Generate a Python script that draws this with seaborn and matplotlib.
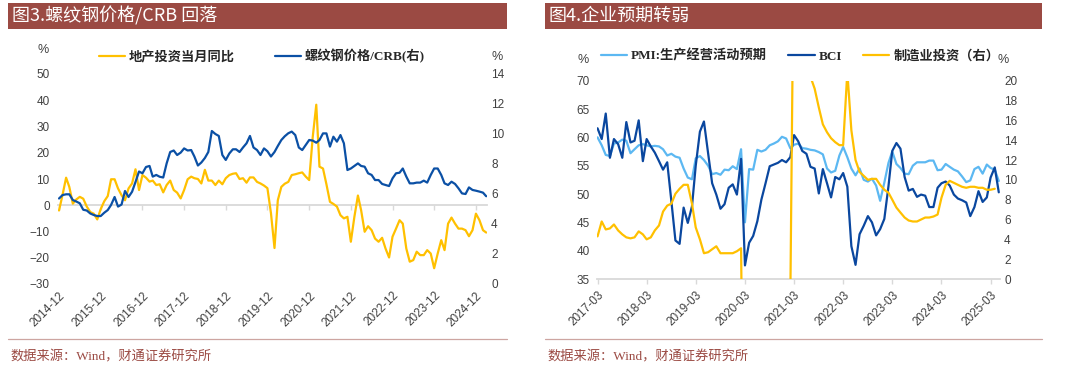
import pandas as pd
import seaborn as sns
import matplotlib.pyplot as plt
from matplotlib.lines import Line2D
from matplotlib.patches import Rectangle

sns.set_theme(style="white")
plt.rcParams['font.family'] = ['Liberation Sans', 'Noto Sans CJK SC']
plt.rcParams['axes.unicode_minus'] = True

# ---- 图3 data (monthly, from 2014-12) ----
re_invest_yoy = [
    -2, 4, 10.5, 7, 0.6, 2.2, 3.2, 2.5, -0.5, -2.6, -3.2, -5.4,
    -1.5, 1.5, 3.5, 9.9, 9.9, 6.4, 3.8, 1.9, 6.4, 8.3, 13.7, 5.8,
    11.5, 10.5, 9, 9.4, 7.7, 8, 4.9, 7.7, 9.4, 5.8, 4.8, 2.6,
    5.8, 9.9, 10.9, 10.3, 10, 8.3, 13.5, 9.4, 9.4, 7.7, 9.4, 8,
    10.3, 11.5, 12, 12.2, 10, 10.3, 8.6, 10.6, 10.6, 8.9, 8.3, 7.5,
    6.5, -3, -16.3, 1.9, 7, 8.2, 8.9, 11.5, 11.8, 12.2, 12.5, 10.9,
    9.6, 26, 38.3, 14.7, 14, 8, 1.3, 0.5, -0.5, -3.8, -5, -4.4,
    -13.9, -4.4, 3.7, -1.9, -10.1, -8, -9.5, -12.7, -13.9, -12.4, -16.5, -19.9,
    -12, -8.9, -5.7, -7, -16.5, -21.5, -20.9, -17.7, -19, -19, -17.1, -18.4,
    -24, -18.4, -13.3, -17.1, -7, -4.7, -7, -8.9, -8.9, -9.5, -11.8, -9.5,
    -3.2, -5.7, -9.5, -10.4,
]
rebar_crb = [
    5.7, 5.93, 5.98, 5.98, 5.6, 5.5, 5.38, 4.95, 4.9, 4.7, 4.6, 4.53,
    4.53, 4.75, 4.93, 5.27, 5.8, 5.16, 5.3, 6.2, 5.8, 6.15, 6.8, 7.5,
    7.38, 7.8, 7.87, 7.16, 7.27, 7.15, 7.1, 8.04, 8.8, 8.9, 8.6, 8.76,
    9.04, 8.9, 8.93, 8.5, 7.9, 8.1, 8.4, 8.8, 10.2, 10.0, 9.87, 8.6,
    8.27, 8.7, 8.98, 8.98, 8.8, 9.1, 9.38, 9.87, 9.1, 8.93, 8.6, 9.04,
    8.85, 8.5, 8.8, 9.2, 9.6, 9.85, 10.05, 10.16, 9.93, 9.1, 8.93, 9.27,
    9.6, 9.56, 9.42, 9.6, 10.04, 10.04, 9.16, 9.82, 9.49, 9.93, 9.38, 7.6,
    7.7, 7.87, 8.04, 7.87, 7.82, 7.38, 7.27, 6.93, 6.93, 6.67, 6.6, 6.53,
    7.04, 7.38, 7.42, 7.7, 7.16, 6.71, 6.71, 6.76, 6.76, 6.89, 6.76, 7.27,
    7.7, 7.7, 7.27, 6.71, 6.6, 6.82, 6.67, 6.38, 6.04, 6.0, 6.44, 6.27,
    6.22, 6.16, 6.09, 5.85,
]
left_dates = pd.date_range("2014-12-01", periods=len(re_invest_yoy), freq="MS")
left_ticks = pd.date_range("2014-12-01", "2024-12-01", freq="12MS")

# ---- 图4 data (monthly, from 2017-03) ----
pmi_expect = [
    60.0, 58.6, 56.9, 56.7, 58.9, 59.1, 59.6, 59.4, 57.2, 57.9, 58.6, 58.8,
    58.6, 58.4, 58.5, 58.4, 57.9, 56.8, 57.1, 56.6, 56.4, 54.5, 52.9, 52.6,
    56.3, 56.7, 56.0, 55.0, 53.5, 53.7, 53.4, 54.3, 54.2, 54.9, 54.4, 57.9,
    45.0, 54.4, 54.3, 57.8, 57.5, 57.8, 58.6, 58.9, 59.3, 60.1, 59.8, 58.1,
    58.7, 58.9, 58.1, 58.0, 57.8, 57.7, 57.4, 57.0, 54.5, 53.8, 54.1, 56.8,
    58.3, 56.5, 54.5, 53.3, 54.5, 52.5, 52.2, 52.7, 51.5, 48.8, 52.0, 55.5,
    57.5, 55.3, 54.6, 53.6, 53.5, 55.0, 55.6, 55.6, 55.6, 55.9, 55.9, 54.2,
    54.3, 55.3, 54.8, 54.3, 54.0, 53.1, 52.1, 52.4, 54.4, 54.8, 53.6, 55.2,
    54.6, 54.3, 52.3,
]
bci = [
    61.6, 59.7, 64.2, 56.4, 59.7, 58.8, 56.4, 62.7, 59.1, 59.4, 63.0, 55.8,
    59.7, 58.4, 57.3, 55.8, 54.3, 55.6, 48.7, 41.8, 41.2, 47.6, 44.9, 47.8,
    55.0, 61.0, 62.8, 57.2, 51.9, 49.9, 47.4, 48.2, 51.1, 51.7, 49.9, 56.2,
    37.4, 41.4, 42.6, 45.2, 49.0, 51.9, 54.9, 55.2, 55.5, 56.0, 55.6, 56.5,
    60.4, 59.3, 57.6, 57.1, 54.8, 54.5, 50.1, 54.4, 51.9, 49.4, 53.0, 52.6,
    53.7, 51.3, 40.8, 37.5, 42.9, 44.4, 46.1, 45.0, 42.7, 43.8, 45.6, 51.4,
    57.6, 59.0, 58.0, 53.0, 50.6, 50.9, 49.5, 49.9, 49.7, 47.7, 47.7, 51.1,
    51.9, 52.2, 51.5, 49.9, 49.2, 48.9, 48.5, 46.1, 47.7, 50.5, 48.6, 49.4,
    52.9, 54.7, 50.3,
]
mfg_invest = [
    4.3, 5.8, 5.0, 5.1, 5.5, 4.9, 4.5, 4.2, 4.1, 4.2, 4.8, 4.5,
    4.0, 4.2, 4.9, 5.4, 6.8, 7.4, 7.6, 8.6, 9.1, 9.5, 9.5, 7.6,
    5.2, 4.0, 2.6, 2.7, 3.0, 3.3, 2.6, 2.6, 2.6, 2.6, 2.8, 3.1,
    -31.5, -27.0, -25.2, -18.8, -14.8, -11.7, -10.2, -8.1, -6.5, -5.3, -3.5, -2.2,
    37.3, 33.0, 29.8, 23.8, 20.4, 19.2, 17.3, 15.6, 14.8, 14.2, 13.8, 13.5,
    13.5, 20.9, 15.0, 12.0, 10.8, 10.4, 10.0, 10.1, 10.1, 9.5, 9.0, 8.7,
    8.0, 7.2, 6.7, 6.2, 5.9, 5.8, 5.8, 6.0, 6.2, 6.2, 6.3, 6.5,
    8.2, 9.5, 9.9, 9.7, 9.5, 9.3, 9.2, 9.3, 9.3, 9.2, 9.2, 9.0,
    9.0, 9.1,
]
right_dates = pd.date_range("2017-03-01", periods=len(pmi_expect), freq="MS")
mfg_dates = right_dates[:len(mfg_invest)]
right_ticks = pd.date_range("2017-03-01", "2025-03-01", freq="12MS")

YELLOW = "#FFC000"
BLUE = "#0B50A5"
LIGHT = "#5CB8F2"
DARK = "#0A479F"
BAR = "#9B4A43"
AXIS_GREY = "#D9D9D9"
TXT = "#404040"
SERIF_CJK = ["Liberation Serif", "Noto Sans CJK SC"]
W, H = 1080, 377

fig = plt.figure(figsize=(W / 100, H / 100), dpi=100)


def fx(px):
    return px / W


def fy(py):
    return 1 - py / H


def style_axes(ax):
    for s in ax.spines.values():
        s.set_visible(False)
    ax.tick_params(axis="y", length=0, labelsize=8.5, labelcolor=TXT)
    ax.set_xlabel("")
    ax.set_ylabel("")


def header(x0, x1, title):
    fig.add_artist(Rectangle((fx(x0), fy(29)), fx(x1 - x0), 26 / H,
                             transform=fig.transFigure, color=BAR, lw=0))
    fig.text(fx(x0 + 4), fy(16), title, color="white", fontsize=13,
             family="Noto Sans CJK SC", va="center", ha="left")
    fig.add_artist(Line2D([fx(x0), fx(x1)], [fy(339), fy(339)],
                          transform=fig.transFigure, color="#CDA5A1", lw=0.9))
    fig.text(fx(x0 + 2), fy(357), "数据来源：Wind，财通证券研究所", color=BAR,
             fontsize=9.5, family=SERIF_CJK, va="center", ha="left")


# ---------------- left panel ----------------
axL = fig.add_axes([fx(58), fy(284), fx(487 - 58), (284 - 74) / H])
sns.lineplot(x=left_dates, y=re_invest_yoy, ax=axL, color=YELLOW, linewidth=1.6)
axL2 = axL.twinx()
sns.lineplot(x=left_dates, y=rebar_crb, ax=axL2, color=BLUE, linewidth=1.6)

axL.set_ylim(-30, 50)
axL.set_yticks(range(-30, 51, 10))
axL2.set_ylim(0, 14)
axL2.set_yticks(range(0, 15, 2))
axL.set_xlim(pd.Timestamp("2014-11-22"), pd.Timestamp("2025-03-08"))
for a in (axL, axL2):
    style_axes(a)
axL.tick_params(axis="y", pad=6)
axL2.tick_params(axis="y", pad=3)
axL.set_xticks(left_ticks)
axL.set_xticklabels([d.strftime("%Y-%m") for d in left_ticks], rotation=45,
                    ha="right", rotation_mode="anchor", fontsize=8.5, color=TXT)
axL.tick_params(axis="x", length=0, pad=4)

zero_pos = (0 - axL.get_ylim()[0]) / (axL.get_ylim()[1] - axL.get_ylim()[0])
sec = axL.secondary_xaxis(zero_pos)
sec.set_xticks(axL.get_xticks())
sec.tick_params(axis="x", direction="out", length=3.5, width=1, color=AXIS_GREY,
                labelbottom=False, labeltop=False)
for s in sec.spines.values():
    s.set_color(AXIS_GREY)
    s.set_linewidth(1.3)

fig.text(fx(43), fy(50), "%", fontsize=9, color=TXT, ha="center", va="center")
fig.text(fx(497), fy(57), "%", fontsize=9, color=TXT, ha="center", va="center")
fig.legend(handles=[Line2D([], [], color=YELLOW, lw=1.6),
                    Line2D([], [], color=BLUE, lw=1.6)],
           labels=["地产投资当月同比", "螺纹钢价格/CRB(右)"],
           loc="center", bbox_to_anchor=(fx(262), fy(56)), ncol=2, frameon=False,
           prop={"family": SERIF_CJK, "size": 9.5, "weight": "bold"},
           handlelength=2.0, handletextpad=0.3, columnspacing=3.0)
header(8, 507, "图3.螺纹钢价格/CRB 回落")

# ---------------- right panel ----------------
axR = fig.add_axes([fx(597), fy(279), fx(1000 - 597), (279 - 80.7) / H])
sns.lineplot(x=right_dates, y=pmi_expect, ax=axR, color=LIGHT, linewidth=1.6)
sns.lineplot(x=right_dates, y=bci, ax=axR, color=DARK, linewidth=1.6)
axR2 = axR.twinx()
sns.lineplot(x=mfg_dates, y=mfg_invest, ax=axR2, color=YELLOW, linewidth=1.6)

axR.set_ylim(35, 70)
axR.set_yticks(range(35, 71, 5))
axR2.set_ylim(0, 20)
axR2.set_yticks(range(0, 21, 2))
axR.set_xlim(pd.Timestamp("2017-02-25"), pd.Timestamp("2025-05-10"))
for a in (axR, axR2):
    style_axes(a)
axR.tick_params(axis="y", pad=5)
axR2.tick_params(axis="y", pad=3)
axR.spines["bottom"].set_visible(True)
axR.spines["bottom"].set_color(AXIS_GREY)
axR.spines["bottom"].set_linewidth(1.3)
axR.set_xticks(right_ticks)
axR.set_xticklabels([d.strftime("%Y-%m") for d in right_ticks], rotation=45,
                    ha="right", rotation_mode="anchor", fontsize=8.5, color=TXT)
axR.tick_params(axis="x", direction="out", length=3.5, width=1, color=AXIS_GREY,
                pad=4, bottom=True)

fig.text(fx(583), fy(60), "%", fontsize=9, color=TXT, ha="center", va="center")
fig.text(fx(1003), fy(60), "%", fontsize=9, color=TXT, ha="center", va="center")
fig.legend(handles=[Line2D([], [], color=LIGHT, lw=1.6),
                    Line2D([], [], color=DARK, lw=1.6),
                    Line2D([], [], color=YELLOW, lw=1.6)],
           labels=["PMI:生产经营活动预期", "BCI", "制造业投资（右）"],
           loc="center", bbox_to_anchor=(fx(800), fy(56)), ncol=3, frameon=False,
           prop={"family": SERIF_CJK, "size": 9.5, "weight": "bold"},
           handlelength=2.0, handletextpad=0.3, columnspacing=1.6)
header(545, 1042, "图4.企业预期转弱")

fig.savefig("out.png", dpi=100, facecolor="white")
